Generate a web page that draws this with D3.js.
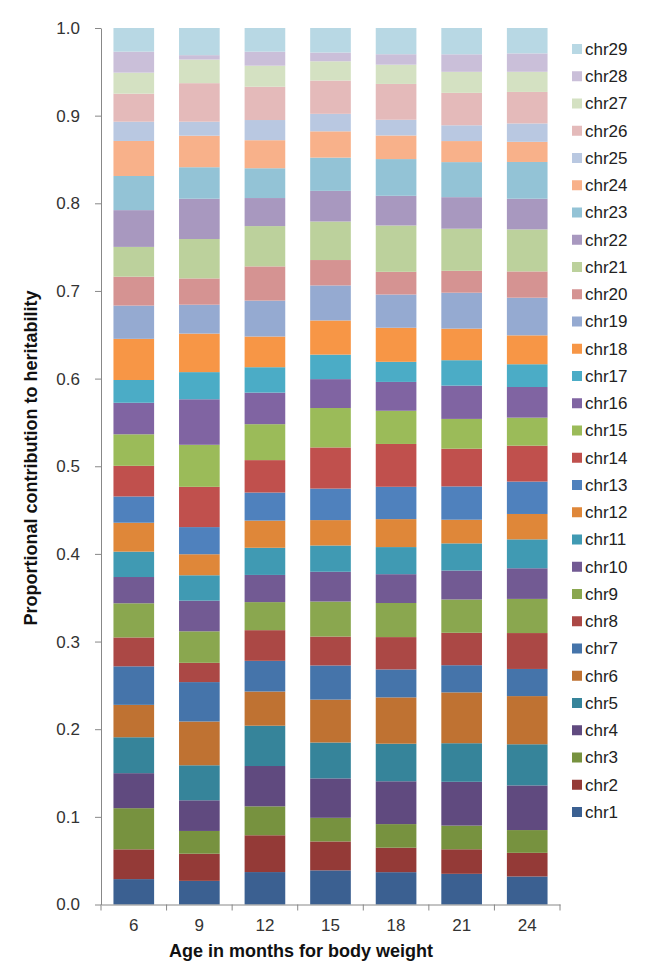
<!DOCTYPE html>
<html>
<head>
<meta charset="utf-8">
<script src="https://cdn.jsdelivr.net/npm/d3@7"></script>
<style>
  html, body { margin: 0; padding: 0; background: #fff; }
  svg { display: block; font-family: "Liberation Sans", Arial, sans-serif; }
</style>
</head>
<body>
<svg id="chart" width="650" height="972"></svg>
<script>
// Categories (age in months)
const ages = ["6", "9", "12", "15", "18", "21", "24"];
// Chromosome series names (bottom to top)
const chromosomes = d3.range(1, 30).map(i => "chr" + i);
// Contribution (%) of chr1..chr29 for each age
const age6  = [2.9,3.4,4.7,4.0,4.1,3.7,4.4,3.3,3.9,3.0,2.9,3.3,3.0,3.5,3.6,3.6,2.6,4.7,3.8,3.3,3.4,4.2,3.9,4.0,2.2,3.2,2.4,2.4,2.7];
const age9  = [2.7,3.1,2.6,3.5,4.0,5.0,4.5,2.2,3.6,3.5,2.9,2.4,3.1,4.6,4.8,5.2,3.1,4.4,3.3,3.0,4.5,4.6,3.6,3.6,1.6,4.4,2.7,0.5,3.1];
const age12 = [3.7,4.2,3.3,4.6,4.6,3.9,3.5,3.5,3.2,3.1,3.1,3.1,3.2,3.7,4.1,3.6,2.9,3.5,4.1,3.9,4.6,3.2,3.4,3.2,2.3,3.8,2.4,1.6,2.7];
const age15 = [3.9,3.3,2.7,4.5,4.1,4.9,3.9,3.3,4.0,3.4,3.0,2.9,3.6,4.7,4.5,3.3,2.8,3.9,4.0,2.9,4.4,3.5,3.8,3.0,2.0,3.8,2.2,1.0,2.8];
const age18 = [3.7,2.8,2.7,4.9,4.3,5.3,3.2,3.7,3.9,3.3,3.1,3.2,3.7,4.9,3.8,3.3,2.3,3.9,3.8,2.6,5.3,3.4,4.2,2.7,1.8,4.1,2.2,1.2,3.0];
const age21 = [3.5,2.8,2.7,5.0,4.4,5.8,3.1,3.7,3.8,3.3,3.1,2.7,3.8,4.3,3.4,3.8,2.9,3.6,4.1,2.5,4.8,3.6,4.0,2.4,1.8,3.7,2.4,2.0,3.0];
const age24 = [3.2,2.7,2.6,5.1,4.7,5.5,3.1,4.1,3.9,3.5,3.3,2.9,3.7,4.1,3.2,3.5,2.6,3.3,4.3,3.0,4.8,3.5,4.2,2.3,2.1,3.6,2.3,2.1,2.9];
const seriesByAge = [age6, age9, age12, age15, age18, age21, age24];
// Y tick values
const yTicks = [0, 0.1, 0.2, 0.3, 0.4, 0.5, 0.6, 0.7, 0.8, 0.9, 1.0];

const colors = [
  "#3b6091","#943a37","#77923f","#604a7f","#36849a","#bf7232",
  "#4574aa","#ab4845","#8aa74f","#725a93","#409ab3","#df8739",
  "#4f81bd","#c0504d","#9bbb59","#8064a2","#4bacc6","#f79646",
  "#95aad1","#d59392","#bcd19c","#a898bf","#93c3d6","#f8b18a",
  "#b9c8e1","#e4baba","#d4e1c2","#cabfd9","#b8d8e4"
];

const table = ages.map((a, i) => {
  const row = { age: a };
  chromosomes.forEach((c, j) => row[c] = seriesByAge[i][j]);
  return row;
});

const svg = d3.select("#chart");
const x0 = 101, x1 = 560, yBottom = 904.5, yTop = 28;
const FONT = "Liberation Sans, Arial, sans-serif";

const x = d3.scaleBand().domain(ages).range([x0, x1]).paddingInner(0.38).paddingOuter(0.19);
const y = d3.scaleLinear().domain([0, 1]).range([yBottom, yTop]);
const color = d3.scaleOrdinal().domain(chromosomes).range(colors);

const stack = d3.stack().keys(chromosomes).offset(d3.stackOffsetExpand);
const layers = stack(table);

svg.append("g").selectAll("g")
  .data(layers).join("g")
  .attr("fill", d => color(d.key))
  .selectAll("rect")
  .data(d => d).join("rect")
  .attr("x", d => x(d.data.age))
  .attr("width", x.bandwidth())
  .attr("y", d => y(d[1]))
  .attr("height", d => y(d[0]) - y(d[1]));

// Y axis
const yAxis = svg.append("g").attr("transform", `translate(${x0},0)`)
  .call(d3.axisLeft(y).tickValues(yTicks).tickFormat(d3.format(".1f")).tickSize(6).tickSizeOuter(0).tickPadding(15));
yAxis.select(".domain").attr("stroke", "#888");
yAxis.selectAll(".tick line").attr("stroke", "#888");
yAxis.selectAll(".tick text").attr("font-size", 17).attr("fill", "#333").attr("font-family", FONT);

// X axis
const xAxis = svg.append("g").attr("transform", `translate(0,${yBottom})`)
  .call(d3.axisBottom(x).tickSize(0).tickPadding(14.5));
xAxis.select(".domain").attr("stroke", "#888");
xAxis.selectAll(".tick text").attr("font-size", 17).attr("fill", "#333").attr("font-family", FONT);
const step = x.step();
xAxis.selectAll(".bound").data(d3.range(ages.length + 1)).join("line")
  .attr("class", "bound")
  .attr("x1", i => x0 + i * step).attr("x2", i => x0 + i * step)
  .attr("y1", 0).attr("y2", 6).attr("stroke", "#888");

// Axis titles
svg.append("text")
  .attr("x", 301).attr("y", 957)
  .attr("text-anchor", "middle")
  .attr("font-size", 18).attr("font-weight", "bold").attr("fill", "#111")
  .text("Age in months for body weight");
svg.append("text")
  .attr("transform", "translate(37,458) rotate(-90)")
  .attr("text-anchor", "middle")
  .attr("font-size", 18).attr("font-weight", "bold").attr("fill", "#111")
  .text("Proportional contribution to heritability");

// Legend (chr29 at top)
const legend = svg.append("g");
const legendItems = chromosomes.slice().reverse();
const lg = legend.selectAll("g").data(legendItems).join("g")
  .attr("transform", (d, i) => `translate(572,${49 + i * 27.25})`);
lg.append("rect").attr("x", 0).attr("y", -5).attr("width", 10).attr("height", 10).attr("fill", d => color(d));
lg.append("text").attr("x", 13).attr("y", 0).attr("dy", "0.35em")
  .attr("font-size", 17).attr("fill", "#222").text(d => d);
</script>
</body>
</html>
